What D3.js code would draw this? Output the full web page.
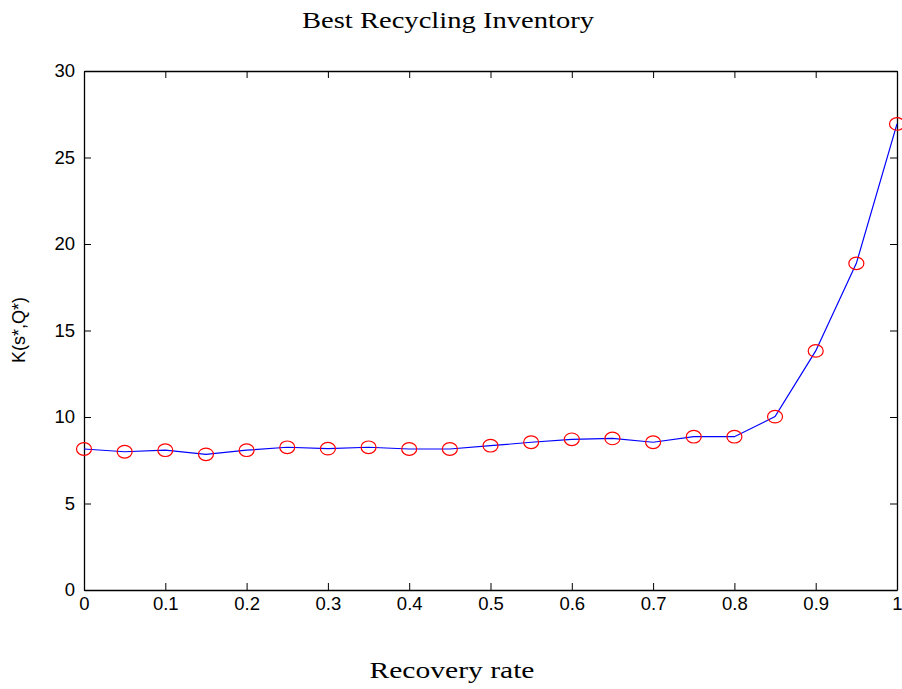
<!DOCTYPE html>
<html>
<head>
<meta charset="utf-8">
<script src="https://cdn.jsdelivr.net/npm/d3@7"></script>
<style>
  body { margin: 0; background: #fff; }
  svg { display: block; }
</style>
</head>
<body>
<div class="chart_box"></div>
<script>
// recovery rate vs K(s*,Q*)
var rates = [0, 0.05, 0.1, 0.15, 0.2, 0.25, 0.3, 0.35, 0.4, 0.45, 0.5,
             0.55, 0.6, 0.65, 0.7, 0.75, 0.8, 0.85, 0.9, 0.95, 1];
var costs = [8.15, 7.99, 8.08, 7.84, 8.08, 8.25, 8.17, 8.25, 8.15, 8.15, 8.34,
             8.54, 8.71, 8.76, 8.54, 8.86, 8.86, 10.02, 13.82, 18.88, 26.94];
var xTicks = [0, 0.1, 0.2, 0.3, 0.4, 0.5, 0.6, 0.7, 0.8, 0.9, 1];
var yTicks = [0, 5, 10, 15, 20, 25, 30];

var width = 902;
var height = 689;
var plotLeft = 84, plotRight = 897, plotTop = 71, plotBottom = 590;
var tickLen = 7;

var svg = d3.select(".chart_box")
  .append("svg")
  .attr("width", width)
  .attr("height", height);

var xScale = d3.scaleLinear().domain([0, 1]).range([plotLeft, plotRight]);
var yScale = d3.scaleLinear().domain([0, 30]).range([plotBottom, plotTop]);

var labelFont = "'Liberation Sans', Arial, sans-serif";
var serifFont = "'Palatino Linotype', 'Book Antiqua', Palatino, 'Liberation Serif', serif";

// bottom axis with inward ticks
var xAxis = d3.axisBottom(xScale).tickValues(xTicks)
  .tickSizeInner(-tickLen).tickSizeOuter(0).tickPadding(7)
  .tickFormat(function(d) { return d3.format("")(d); });
svg.append("g")
  .attr("class", "x axis")
  .attr("transform", "translate(0," + plotBottom + ")")
  .call(xAxis);

// top axis, ticks only
svg.append("g")
  .attr("class", "x2 axis")
  .attr("transform", "translate(0," + plotTop + ")")
  .call(d3.axisTop(xScale).tickValues(xTicks).tickSizeInner(-tickLen).tickSizeOuter(0).tickFormat(""));

var yAxis = d3.axisLeft(yScale).tickValues(yTicks)
  .tickSizeInner(-tickLen).tickSizeOuter(0).tickPadding(9);
svg.append("g")
  .attr("class", "y axis")
  .attr("transform", "translate(" + plotLeft + ",0)")
  .call(yAxis);

svg.append("g")
  .attr("class", "y2 axis")
  .attr("transform", "translate(" + plotRight + ",0)")
  .call(d3.axisRight(yScale).tickValues(yTicks).tickSizeInner(-tickLen).tickSizeOuter(0).tickFormat(""));

svg.selectAll(".axis path").attr("stroke", "#000").attr("stroke-width", 1.3);
svg.selectAll(".axis line").attr("stroke", "#000");
svg.selectAll(".axis text")
  .attr("fill", "#000")
  .style("font-family", labelFont)
  .style("font-size", "18.5px");

// the data line
var points = rates.map(function(r, i) { return { x: r, y: costs[i] }; });
var line = d3.line()
  .x(function(d) { return xScale(d.x); })
  .y(function(d) { return yScale(d.y); });

svg.append("path")
  .datum(points)
  .attr("d", line)
  .attr("fill", "none")
  .attr("stroke", "#0000ff")
  .attr("stroke-width", 1.2);

svg.selectAll(".marker")
  .data(points).enter()
  .append("ellipse")
  .attr("class", "marker")
  .attr("cx", function(d) { return xScale(d.x); })
  .attr("cy", function(d) { return yScale(d.y); })
  .attr("rx", 7.5)
  .attr("ry", 6.3)
  .attr("fill", "none")
  .attr("stroke", "#ff0000")
  .attr("stroke-width", 1.2);

// title + labels
svg.append("text")
  .attr("x", 448)
  .attr("y", 28)
  .attr("text-anchor", "middle")
  .attr("textLength", 292)
  .attr("lengthAdjust", "spacingAndGlyphs")
  .style("font-family", serifFont)
  .style("font-size", "23px")
  .text("Best Recycling Inventory");

svg.append("text")
  .attr("x", 452)
  .attr("y", 678)
  .attr("text-anchor", "middle")
  .attr("textLength", 165)
  .attr("lengthAdjust", "spacingAndGlyphs")
  .style("font-family", serifFont)
  .style("font-size", "23px")
  .text("Recovery rate");

svg.append("text")
  .attr("transform", "translate(25,330) rotate(-90)")
  .attr("text-anchor", "middle")
  .style("font-family", labelFont)
  .style("font-size", "18px")
  .text("K(s*,Q*)");
</script>
</body>
</html>
